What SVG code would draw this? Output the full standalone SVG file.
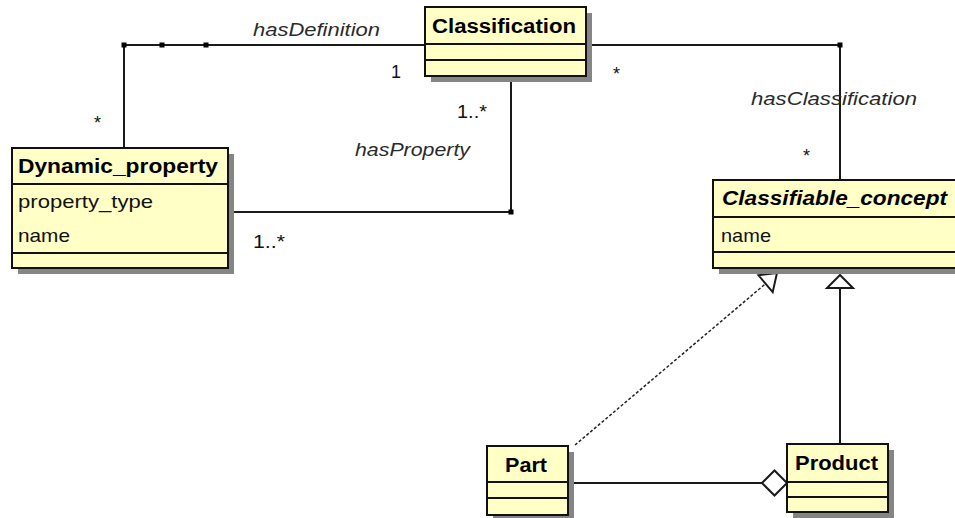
<svg xmlns="http://www.w3.org/2000/svg" width="955" height="518" viewBox="0 0 955 518">
  <style>
    .shadow { fill: #858585; }
    .box { fill: #ffffc6; stroke: #111; stroke-width: 2; }
    .sep { stroke: #111; stroke-width: 2; }
    .edge { fill: none; stroke: #1a1a1a; stroke-width: 2; }
    .dash { fill: none; stroke: #222; stroke-width: 1.5; stroke-dasharray: 3 2; }
    .head { fill: #fff; stroke: #1a1a1a; stroke-width: 2; stroke-linejoin: miter; }
    .dot { fill: #000; }
    .name { font-family: "Liberation Sans", Arial, sans-serif; font-weight: bold; font-size: 20px; fill: #000; }
    .attr { font-family: "Liberation Sans", Arial, sans-serif; font-size: 19px; fill: #111; }
    .role { font-family: "Liberation Sans", Arial, sans-serif; font-style: italic; font-size: 18px; fill: #2a2a2a; }
    .mult { font-family: "Liberation Sans", Arial, sans-serif; font-size: 18px; fill: #111; }
  </style>
  <rect width="955" height="518" fill="#fff"/>

  <!-- associations, generalizations and aggregation -->
  <g id="connectors">
    <!-- hasDefinition -->
    <polyline class="edge" points="124,148 124,45 425,45"/>
    <rect class="dot" x="121.5" y="42.5" width="5" height="5"/>
    <rect class="dot" x="159.5" y="42.5" width="5" height="5"/>
    <rect class="dot" x="203.5" y="42.5" width="5" height="5"/>
    <text class="role" x="253" y="36" textLength="127" lengthAdjust="spacingAndGlyphs">hasDefinition</text>
    <text class="mult" x="391" y="78">1</text>
    <text class="mult" x="94" y="129">*</text>

    <!-- hasProperty -->
    <polyline class="edge" points="234,212 511,212 511,82"/>
    <rect class="dot" x="508.5" y="209.5" width="5" height="5"/>
    <text class="role" x="355" y="156" textLength="115" lengthAdjust="spacingAndGlyphs">hasProperty</text>
    <text class="mult" x="457" y="118" textLength="30" lengthAdjust="spacingAndGlyphs">1..*</text>
    <text class="mult" x="253" y="248" textLength="32" lengthAdjust="spacingAndGlyphs">1..*</text>

    <!-- hasClassification -->
    <polyline class="edge" points="592,45 840,45 840,180"/>
    <rect class="dot" x="837.5" y="42.5" width="5" height="5"/>
    <text class="role" x="751" y="105" textLength="166" lengthAdjust="spacingAndGlyphs">hasClassification</text>
    <text class="mult" x="613" y="80">*</text>
    <text class="mult" x="803" y="162">*</text>

    <!-- Product generalizes Classifiable_concept -->
    <line class="edge" x1="840" y1="444" x2="840" y2="288"/>
    <polygon class="head" points="840,275 827,288 853,288"/>

    <!-- Part realizes Classifiable_concept -->
    <line class="dash" x1="575" y1="445" x2="765.6" y2="283.7"/>
    <polygon class="head" points="777,273 758.5,275.3 772.7,292.1"/>

    <!-- Part aggregated into Product -->
    <line class="edge" x1="573" y1="483" x2="762" y2="483"/>
    <polygon class="head" points="762,483 774.5,470.5 787,483 774.5,495.5"/>
  </g>

  <g id="Dynamic_property">
    <rect class="shadow" x="18" y="154" width="216" height="120"/>
    <rect class="box" x="12" y="148" width="216" height="120"/>
    <line class="sep" x1="12" y1="184" x2="228" y2="184"/>
    <line class="sep" x1="12" y1="253" x2="228" y2="253"/>
    <text class="name" x="18" y="173" textLength="200" lengthAdjust="spacingAndGlyphs">Dynamic_property</text>
    <text class="attr" x="18" y="208" textLength="135" lengthAdjust="spacingAndGlyphs">property_type</text>
    <text class="attr" x="18" y="242" textLength="52" lengthAdjust="spacingAndGlyphs">name</text>
  </g>

  <g id="Classification">
    <rect class="shadow" x="431" y="13" width="161" height="69"/>
    <rect class="box" x="425" y="7" width="161" height="69"/>
    <line class="sep" x1="425" y1="44" x2="586" y2="44"/>
    <line class="sep" x1="425" y1="60" x2="586" y2="60"/>
    <text class="name" x="432" y="33" textLength="144" lengthAdjust="spacingAndGlyphs">Classification</text>
  </g>

  <g id="Classifiable_concept">
    <rect class="shadow" x="719" y="186" width="250" height="88"/>
    <rect class="box" x="713" y="180" width="250" height="88"/>
    <line class="sep" x1="713" y1="217" x2="963" y2="217"/>
    <line class="sep" x1="713" y1="252" x2="963" y2="252"/>
    <text class="name" font-style="italic" x="722" y="205" textLength="225" lengthAdjust="spacingAndGlyphs">Classifiable_concept</text>
    <text class="attr" x="721" y="242" textLength="50" lengthAdjust="spacingAndGlyphs">name</text>
  </g>

  <g id="Part">
    <rect class="shadow" x="493" y="452" width="81" height="69"/>
    <rect class="box" x="487" y="446" width="81" height="69"/>
    <line class="sep" x1="487" y1="482" x2="568" y2="482"/>
    <line class="sep" x1="487" y1="498" x2="568" y2="498"/>
    <text class="name" x="505" y="472" textLength="42" lengthAdjust="spacingAndGlyphs">Part</text>
  </g>

  <g id="Product">
    <rect class="shadow" x="793" y="450" width="101" height="68"/>
    <rect class="box" x="787" y="444" width="101" height="68"/>
    <line class="sep" x1="787" y1="482" x2="888" y2="482"/>
    <line class="sep" x1="787" y1="497" x2="888" y2="497"/>
    <text class="name" x="795" y="470" textLength="83" lengthAdjust="spacingAndGlyphs">Product</text>
  </g>
</svg>
